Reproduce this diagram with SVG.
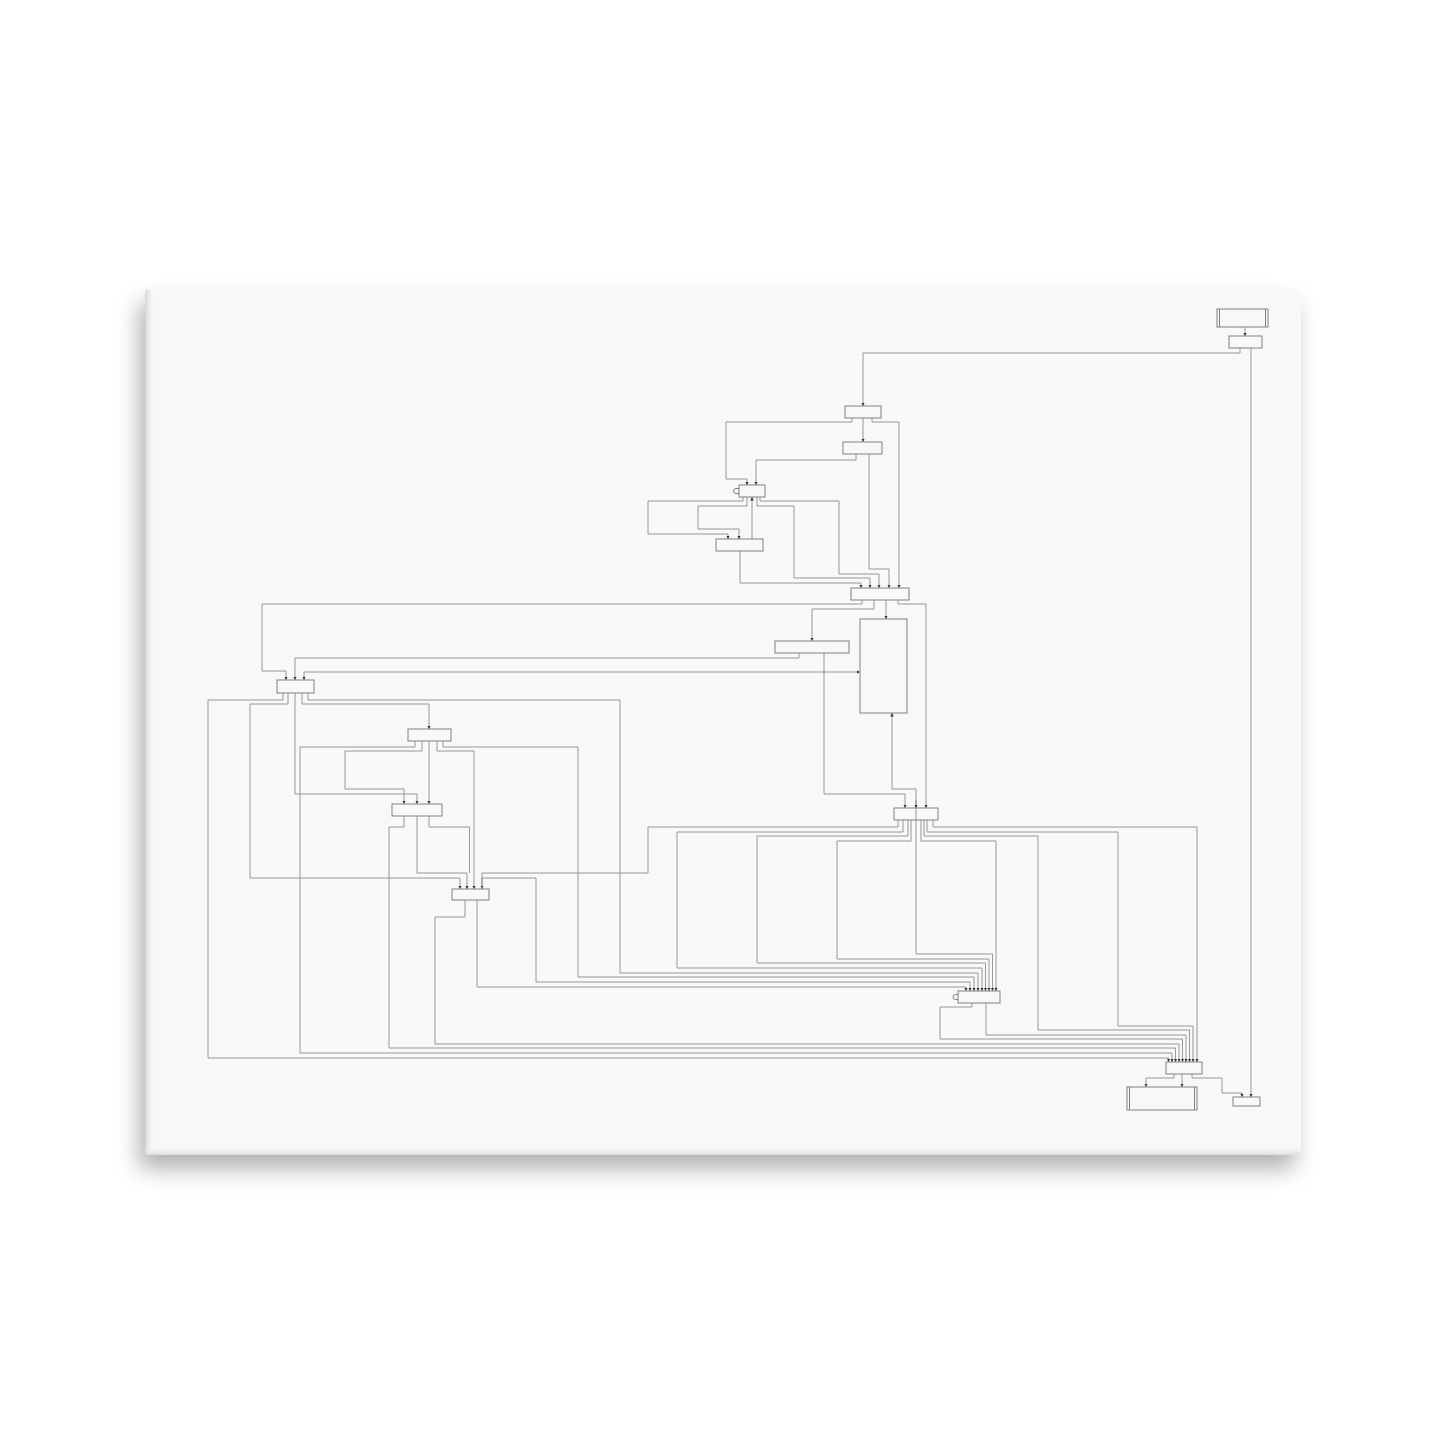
<svg xmlns="http://www.w3.org/2000/svg" width="1445" height="1445" viewBox="0 0 1445 1445">
<style>
.n{fill:none;stroke:#808080;stroke-width:1}
.c path{fill:none;stroke:#8c8c8c;stroke-width:0.9;marker-end:url(#a)}
.c path.x{marker-end:none}
</style>
<defs>
<marker id="a" viewBox="0 0 6 6" refX="6" refY="3" markerWidth="3.5" markerHeight="3.5" orient="auto" markerUnits="userSpaceOnUse"><path d="M0,0 L6,3 L0,6 z" fill="#333"/></marker>
<marker id="b" viewBox="0 0 6 6" refX="6" refY="3" markerWidth="3.5" markerHeight="3.5" orient="auto-start-reverse" markerUnits="userSpaceOnUse"><path d="M0,0 L6,3 L0,6 z" fill="#333"/></marker>
<filter id="sh" x="-10%" y="-10%" width="120%" height="125%"><feDropShadow dx="-6" dy="14" stdDeviation="11" flood-color="#000" flood-opacity="0.3"/></filter>
<linearGradient id="le" x1="0" x2="1" y1="0" y2="0"><stop offset="0" stop-color="#d4d4d4"/><stop offset="1" stop-color="#f8f8f8" stop-opacity="0"/></linearGradient>
<linearGradient id="be" x1="0" x2="0" y1="0" y2="1"><stop offset="0" stop-color="#f8f8f8" stop-opacity="0"/><stop offset="1" stop-color="#dcdcdc"/></linearGradient>
</defs>
<rect width="1445" height="1445" fill="#ffffff"/>
<g id="canvas">
<rect x="145" y="289" width="1156" height="866" rx="6" fill="#f8f8f8" filter="url(#sh)"/>
<rect x="145" y="289" width="10" height="866" rx="4" fill="url(#le)"/>
<rect x="145" y="1146" width="1156" height="9" rx="4" fill="url(#be)"/>
</g>
<g class="c" id="connectors">
<path d="M1245,327 V336"/>
<path d="M1240,348 V353 H863 V406"/>
<path d="M1251,348 V1097"/>
<path d="M863,418 V442"/>
<path d="M852,418 V422 H726 V479 H747 V485"/>
<path d="M872,418 V422 H899 V588"/>
<path d="M856,454 V460 H756 V485"/>
<path d="M869,454 V569 H889 V588"/>
<path d="M743,497 V501 H648 V534 H728 V539"/>
<path d="M747,497 V506 H698 V529 H739 V539"/>
<path d="M752,539 V497"/>
<path d="M760,497 V501 H839 V574 H879 V588"/>
<path d="M757,497 V506 H794 V578 H870 V588"/>
<path d="M740,551 V583 H861 V588"/>
<path d="M862,600 V604 H262 V671 H286 V680"/>
<path d="M874,600 V609 H812 V641"/>
<path d="M886,600 V619"/>
<path d="M898,600 V604 H926 V808"/>
<path d="M799,653 V658 H295 V680"/>
<path d="M295,693 V794 H417 V804"/>
<path d="M824,653 V794 H905 V808"/>
<path d="M304,680 V672 H860" style="marker-start:url(#b)"/>
<path d="M283,693 V700 H208 V1058 H1168.5 V1062"/>
<path d="M288,693 V704 H250 V878 H460 V889"/>
<path d="M302,693 V704 H429 V729"/>
<path d="M429,741 V804"/>
<path d="M308,693 V700 H620 V973 H978 V991"/>
<path d="M415,741 V747 H300 V1053 H1172 V1062"/>
<path d="M422,741 V751 H345 V789 H404 V804"/>
<path d="M437,741 V751 H474 V889"/>
<path d="M443,741 V747 H578 V977 H974 V991"/>
<path d="M404,816 V827 H389 V1048 H1175.5 V1062"/>
<path d="M417,816 V873 H467 V889"/>
<path class="x" d="M429,816 V827 H469.5 V873"/>
<path d="M898,820 V827 H648 V873 H482 V889"/>
<path d="M482,889 V878 H536 V982 H970 V991"/>
<path d="M465,900 V917 H435 V1044 H1179 V1062"/>
<path d="M477,900 V987 H966 V991"/>
<path d="M903,820 V832 H677 V968 H982 V991"/>
<path d="M908,820 V836 H757 V963 H985.5 V991"/>
<path d="M911,820 V841 H837 V959 H989 V991"/>
<path d="M892,713 V789 H916 V954 H992.5 V991" style="marker-start:url(#b)"/>
<path d="M916,800 V808"/>
<path d="M921,820 V841 H996 V991"/>
<path d="M924,820 V836 H1038 V1030 H1189.5 V1062"/>
<path d="M927,820 V832 H1118 V1026 H1193 V1062"/>
<path d="M933,820 V827 H1197 V1062"/>
<path d="M986,1003 V1035 H1186 V1062"/>
<path d="M972,1003 V1007 H940 V1039 H1182.5 V1062"/>
<path d="M1174,1074 V1078 H1146 V1087"/>
<path d="M1182,1074 V1087"/>
<path d="M1192,1074 V1078 H1222 V1093 H1242 V1097"/>
</g>
<g id="n1"><rect class="n" x="1217" y="309" width="51" height="18"/><line class="n" x1="1219.5" y1="309" x2="1219.5" y2="327"/><line class="n" x1="1265.5" y1="309" x2="1265.5" y2="327"/></g>
<g id="n2"><rect class="n" x="1229" y="336" width="33" height="12"/></g>
<g id="n3"><rect class="n" x="845" y="406" width="36" height="12"/></g>
<g id="n4"><rect class="n" x="843" y="442" width="39" height="12"/></g>
<g id="n5"><rect class="n" x="739" y="485" width="26" height="12"/><path class="n" d="M739,488.5 H736 A2.5,2.5 0 0 0 736,493.5 H739"/></g>
<g id="n6"><rect class="n" x="716" y="539" width="47" height="12"/></g>
<g id="n9"><rect class="n" x="851" y="588" width="58" height="12"/></g>
<g id="n10"><rect class="n" x="860" y="619" width="47" height="94"/></g>
<g id="n11"><rect class="n" x="775" y="641" width="74" height="12"/></g>
<g id="n12"><rect class="n" x="277" y="680" width="37" height="13"/></g>
<g id="n16"><rect class="n" x="408" y="729" width="43" height="12"/></g>
<g id="n7"><rect class="n" x="392" y="804" width="50" height="12"/></g>
<g id="n13"><rect class="n" x="894" y="808" width="44" height="12"/></g>
<g id="n8"><rect class="n" x="452" y="889" width="37" height="11"/></g>
<g id="n14"><rect class="n" x="958" y="991" width="42" height="12"/><path class="n" d="M958,994.5 H955.5 A2.5,2.5 0 0 0 955.5,999.5 H958"/></g>
<g id="n15"><rect class="n" x="1166" y="1062" width="36" height="12"/></g>
<g id="n17"><rect class="n" x="1127" y="1087" width="70" height="23"/><line class="n" x1="1129.5" y1="1087" x2="1129.5" y2="1110"/><line class="n" x1="1194.5" y1="1087" x2="1194.5" y2="1110"/></g>
<g id="n18"><rect class="n" x="1233" y="1097" width="27" height="9"/></g>
</svg>
